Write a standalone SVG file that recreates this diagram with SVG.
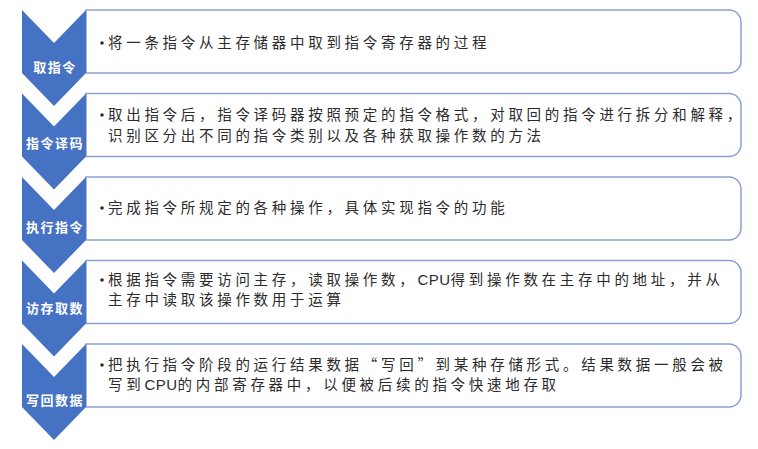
<svg xmlns="http://www.w3.org/2000/svg" width="758" height="449" viewBox="0 0 758 449">
  <defs>
    <style>
      .chev { fill: #4672c4; }
      .box { fill: #ffffff; stroke: #8aa2cf; stroke-width: 1.5; }
      .lbl { font-family: "Noto Sans CJK SC", sans-serif; font-size: 13px; font-weight: bold; fill: #ffffff; letter-spacing: 1.5px; text-anchor: middle; }
      .txt { font-family: "Noto Sans CJK SC", sans-serif; font-size: 14.5px; fill: #2b2b2b; letter-spacing: 3.7px; }
      .lat { font-family: "Liberation Sans", sans-serif; font-size: 15px; letter-spacing: 0.5px; }
      .dot { fill: #2b2b2b; }
    </style>
  </defs>
  <rect width="758" height="449" fill="#ffffff"/>

  <g id="step1">
    <path class="box" d="M86,10 H729 A12,12 0 0 1 741,22 V61 A12,12 0 0 1 729,73 H86 Z"/>
    <polygon class="chev" points="22,10 54,43 86,10 86,73 54,106 22,73"/>
    <text class="lbl" x="55" y="72">取指令</text>
    <circle class="dot" cx="102" cy="43" r="1.8"/>
    <text class="txt" x="108" y="48">将一条指令从主存储器中取到指令寄存器的过程</text>
  </g>

  <g id="step2">
    <path class="box" d="M86,93.5 H729 A12,12 0 0 1 741,105.5 V144.5 A12,12 0 0 1 729,156.5 H86 Z"/>
    <polygon class="chev" points="22,93.5 54,126.5 86,93.5 86,156.5 54,189.5 22,156.5"/>
    <text class="lbl" x="55" y="148">指令译码</text>
    <circle class="dot" cx="102" cy="115" r="1.8"/>
    <text class="txt" x="108" y="120">取出指令后，指令译码器按照预定的指令格式，对取回的指令进行拆分和解释，</text>
    <text class="txt" x="108" y="141">识别区分出不同的指令类别以及各种获取操作数的方法</text>
  </g>

  <g id="step3">
    <path class="box" d="M86,177 H729 A12,12 0 0 1 741,189 V228 A12,12 0 0 1 729,240 H86 Z"/>
    <polygon class="chev" points="22,177 54,210 86,177 86,240 54,273 22,240"/>
    <text class="lbl" x="55" y="232">执行指令</text>
    <circle class="dot" cx="102" cy="208" r="1.8"/>
    <text class="txt" x="108" y="213">完成指令所规定的各种操作，具体实现指令的功能</text>
  </g>

  <g id="step4">
    <path class="box" d="M86,260.5 H729 A12,12 0 0 1 741,272.5 V311.5 A12,12 0 0 1 729,323.5 H86 Z"/>
    <polygon class="chev" points="22,260.5 54,293.5 86,260.5 86,323.5 54,356.5 22,323.5"/>
    <text class="lbl" x="55" y="313">访存取数</text>
    <circle class="dot" cx="102" cy="280" r="1.8"/>
    <text class="txt" x="108" y="285">根据指令需要访问主存，读取操作数，<tspan class="lat">CPU</tspan>得到操作数在主存中的地址，并从</text>
    <text class="txt" x="108" y="305">主存中读取该操作数用于运算</text>
  </g>

  <g id="step5">
    <path class="box" d="M86,344 H729 A12,12 0 0 1 741,356 V395 A12,12 0 0 1 729,407 H86 Z"/>
    <polygon class="chev" points="22,344 54,377 86,344 86,407 54,440 22,407"/>
    <text class="lbl" x="55" y="405">写回数据</text>
    <circle class="dot" cx="102" cy="365" r="1.8"/>
    <text class="txt" x="108" y="370">把执行指令阶段的运行结果数据“写回”到某种存储形式。结果数据一般会被</text>
    <text class="txt" x="108" y="390">写到<tspan class="lat">CPU</tspan>的内部寄存器中，以便被后续的指令快速地存取</text>
  </g>

  <g id="connectors"></g>
</svg>
